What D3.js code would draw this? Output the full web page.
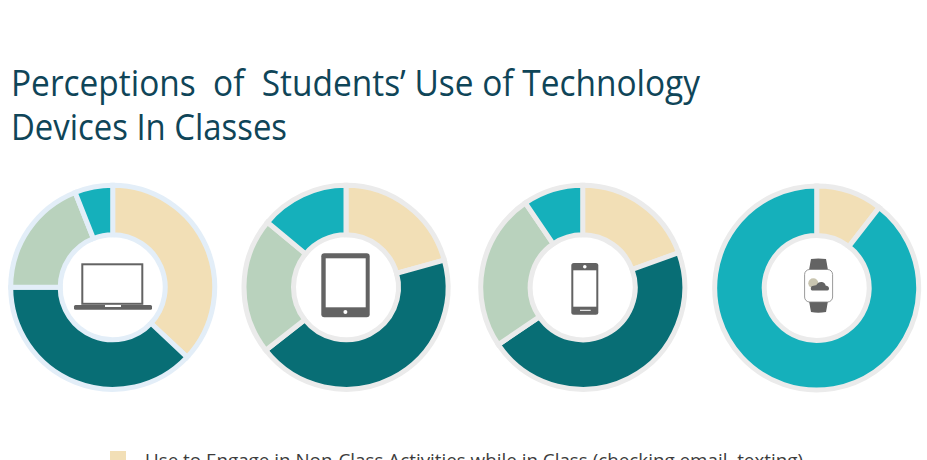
<!DOCTYPE html>
<html>
<head>
<meta charset="utf-8">
<script src="https://cdn.jsdelivr.net/npm/d3@7/dist/d3.min.js"></script>
<style>html,body{margin:0;padding:0;background:#fff;overflow:hidden}svg{display:block}</style>
</head>
<body>
<svg id="c" width="927" height="460"></svg>
<script>
const devices = ["Laptop", "Tablet", "Smartphone", "Smartwatch"];
const nonClassUse = [37, 20.7, 19.5, 10.5];
const darkSeries = [38, 43.7, 46, 0];
const greenSeries = [19, 21.6, 25, 0];
const tealSeries = [6, 14, 9.5, 89.5];
const seriesColors = ["#f2dfb6", "#086e75", "#b9d2bd", "#15b0bb"];
const ringColors = ["#e3eef8", "#ebebeb", "#ebebeb", "#ebebeb"];
const centerX = [112.7, 346, 582.7, 816.7];
const titleLines = ["Perceptions  of  Students\u2019 Use of Technology", "Devices In Classes"];
const legendLabel = "Use to Engage in Non-Class Activities while in Class (checking email, texting)";

const svg = d3.select("#c");
const pie = d3.pie().sort(null).value(d => d.v);
const arc = d3.arc().innerRadius(52.5).outerRadius(102);
const ICON = "#636363";

const title = svg.append("text")
  .attr("xml:space", "preserve").style("white-space", "pre")
  .attr("font-family", "'Open Sans'").attr("font-size", 36).attr("fill", "#0f4558");
titleLines.forEach((t, i) => {
  title.append("tspan").attr("x", 11).attr("y", i ? 140 : 96)
    .attr("textLength", i ? 276 : 689).attr("lengthAdjust", "spacingAndGlyphs").text(t);
});

devices.forEach((name, i) => {
  const rows = [nonClassUse[i], darkSeries[i], greenSeries[i], tealSeries[i]]
    .map((v, k) => ({v, k}));
  const g = svg.append("g").attr("transform", `translate(${centerX[i]},${i === 3 ? 288 : 287.3})`);
  g.selectAll("path").data(pie(rows).filter(d => d.data.v > 0)).join("path")
    .attr("d", arc)
    .attr("fill", d => seriesColors[d.data.k])
    .attr("stroke", ringColors[i]).attr("stroke-width", 5).attr("stroke-linejoin", "miter");
});

// Laptop icon
const lap = svg.append("g");
lap.append("rect").attr("x", 82.3).attr("y", 264.3).attr("width", 60).attr("height", 39.5)
  .attr("fill", "#fff").attr("stroke", ICON).attr("stroke-width", 2);
lap.append("rect").attr("x", 74).attr("y", 305).attr("width", 78).attr("height", 4.7).attr("rx", 1.5).attr("fill", ICON);
lap.append("rect").attr("x", 105).attr("y", 305).attr("width", 16).attr("height", 2).attr("fill", "#fff");

// Tablet icon
const tab = svg.append("g");
tab.append("rect").attr("x", 321.3).attr("y", 253.3).attr("width", 48.4).attr("height", 64).attr("rx", 3).attr("fill", ICON);
tab.append("rect").attr("x", 325.7).attr("y", 258.3).attr("width", 40).attr("height", 49).attr("fill", "#fff");
tab.append("circle").attr("cx", 345.4).attr("cy", 312).attr("r", 2).attr("fill", "#fff");

// Phone icon
const ph = svg.append("g");
ph.append("rect").attr("x", 571.3).attr("y", 263).attr("width", 27).attr("height", 51.7).attr("rx", 2.5).attr("fill", ICON);
ph.append("rect").attr("x", 573.3).attr("y", 270.3).attr("width", 23).attr("height", 36.4).attr("fill", "#fff");
ph.append("circle").attr("cx", 584.8).attr("cy", 266.7).attr("r", 1.8).attr("fill", "#fff");
ph.append("rect").attr("x", 580).attr("y", 309.8).attr("width", 10.7).attr("height", 1).attr("fill", "#fff");

// Watch icon
const w = svg.append("g");
w.append("path").attr("d", "M811,259 Q818,257.8 826,259 L828,270 L809,270 Z").attr("fill", ICON);
w.append("path").attr("d", "M809,301 L828,301 L826,312 Q818,313.4 811,312 Z").attr("fill", ICON);
w.append("rect").attr("x", 804.6).attr("y", 269.5).attr("width", 28).attr("height", 32.5).attr("rx", 5)
  .attr("fill", "#fff").attr("stroke", "#808080").attr("stroke-width", 0.8);
w.append("circle").attr("cx", 813.3).attr("cy", 283.3).attr("r", 5).attr("fill", "#c9c5b0");
w.append("path").attr("d", "M813,290.6 Q810.6,290.6 810.8,288 Q811,285.8 813.5,285.8 Q815,285.2 816.2,285.3 Q818,281.6 822,282 Q825.2,282.6 825.6,285.4 Q829,286 829,288.4 Q829,290.6 826,290.6 Z").attr("fill", ICON);

// Legend (only the first entry is inside the frame)
svg.append("rect").attr("x", 110).attr("y", 451).attr("width", 16).attr("height", 16).attr("fill", seriesColors[0]);
svg.append("text").attr("x", 145).attr("y", 467).attr("textLength", 658).attr("lengthAdjust", "spacingAndGlyphs")
  .attr("font-family", "'Open Sans'").attr("font-size", 19).attr("fill", "#3c3c3c").text(legendLabel);
</script>
</body>
</html>
